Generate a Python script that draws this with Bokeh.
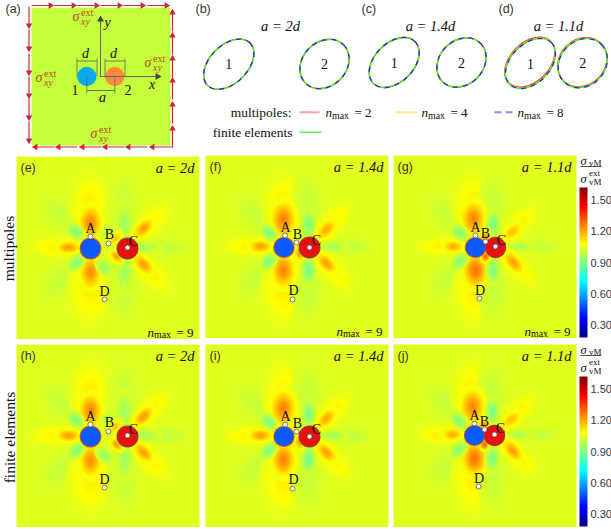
import math
from bokeh.core.properties import value
from bokeh.embed import file_html
from bokeh.models import ColorBar, FixedTicker, LinearColorMapper
from bokeh.plotting import figure
from bokeh.resources import INLINE

# ---------- data ----------
tick_values = [0.30, 0.60, 0.90, 1.20, 1.50]
tick_labels = ["0.30", "0.60", "0.90", "1.20", "1.50"]
scale_low, scale_high = 0.185, 1.62
field_base = 1.04

panel_names = ["(e)", "(f)", "(g)", "(h)", "(i)", "(j)"]
panel_left = [16, 205, 393, 16, 205, 393]
panel_top = [156, 155, 155, 344, 344, 344]
panel_titles = ["a = 2d", "a = 1.4d", "a = 1.1d", "a = 2d", "a = 1.4d", "a = 1.1d"]
panel_config = [0, 1, 2, 0, 1, 2]
panel_dx = [0, 0, 0, 0, 0, -1]
panel_dy = [0, 0, 0, 188, 189, 188]

hole1_x = [90, 283.5, 475]
hole2_x = [127, 309, 495]
holes_y = [248, 247, 247]
hole1_r = [10, 9.7, 9.7]
hole2_r = [10.3, 10.3, 10]
point_a = [(90, 236), (284.5, 235), (475, 235)]
point_b = [(108, 243), (296, 242), (485, 241)]
point_c = [(127, 247), (309, 247), (495, 246)]
point_d = [(104, 299), (292, 299), (479, 298)]
label_a = [(90, 228), (285, 227), (475, 227)]
label_b = [(109, 234), (297, 234), (485, 233)]
label_c = [(133, 241), (316, 240), (501, 240)]
label_d = [(104, 291), (293, 290), (479.5, 290)]

# stress lobes of each geometry: centre, length, width, direction, peak value
lobes2_x = [60, 60, 58, 90, 90, 124, 124, 165, 150, 150, 90, 90, 68, 75, 76, 104, 106, 124, 124, 145, 143, 143, 116, 115]
lobes2_y = [215, 280, 247, 205, 290, 205, 290, 247, 222, 272, 222, 272, 247, 231, 262, 267, 230, 222, 272, 247, 228, 264, 256, 238]
lobes2_l = [70, 70, 70, 80, 85, 85, 85, 60, 62, 62, 46, 46, 34, 26, 26, 26, 22, 50, 50, 38, 36, 36, 22, 22]
lobes2_w = [40, 40, 26, 48, 52, 40, 40, 24, 30, 30, 32, 31, 18, 17, 17, 17, 13, 24, 24, 17, 20, 20, 14, 12]
lobes2_a = [135, 225, 0, 90, 90, 90, 90, 0, 45, -45, 90, 90, 0, 135, 225, -45, 45, 90, 90, 0, 45, -45, -45, 45]
lobes2_v = [1.0, 1.0, 1.11, 1.11, 1.11, 1.0, 1.0, 0.99, 1.11, 1.11, 1.25, 1.24, 1.22, 0.9, 0.9, 0.93, 0.98, 0.95, 0.95, 0.96, 1.22, 1.22, 1.22, 1.17]

lobes14_x = [255, 255, 250, 283, 283, 308, 308, 350, 332, 332, 283, 283, 260, 268, 268, 308, 308, 333, 326, 326, 299]
lobes14_y = [215, 278, 246, 205, 290, 205, 290, 246, 222, 270, 219, 270, 246, 232, 261, 224, 270, 246, 229, 263, 253]
lobes14_l = [70, 70, 68, 80, 85, 85, 85, 60, 62, 62, 50, 48, 34, 26, 26, 38, 38, 34, 36, 36, 20]
lobes14_w = [40, 40, 25, 48, 52, 38, 38, 24, 30, 30, 34, 32, 18, 17, 17, 19, 19, 15, 20, 20, 13]
lobes14_a = [135, 225, 0, 90, 90, 90, 90, 0, 45, -45, 90, 90, 0, 135, 225, 90, 90, 0, 45, -45, -70]
lobes14_v = [1.0, 1.0, 1.11, 1.11, 1.11, 1.0, 1.0, 0.99, 1.11, 1.11, 1.26, 1.26, 1.22, 0.89, 0.89, 0.89, 0.88, 0.95, 1.2, 1.22, 1.22]

lobes11_x = [447, 447, 443, 473, 475, 494, 494, 540, 518, 518, 473, 475, 453, 459, 459, 493, 493, 520, 512, 513, 485, 485]
lobes11_y = [215, 278, 246, 205, 290, 205, 290, 246, 224, 268, 218, 270, 246, 232, 261, 223, 270, 246, 231, 262, 256, 237]
lobes11_l = [70, 70, 62, 80, 85, 85, 85, 60, 62, 62, 48, 48, 30, 26, 26, 34, 34, 30, 34, 38, 16, 16]
lobes11_w = [40, 40, 24, 48, 52, 36, 36, 22, 28, 28, 34, 34, 17, 17, 17, 18, 18, 14, 19, 20, 13, 12]
lobes11_a = [135, 225, 0, 90, 90, 90, 90, 0, 45, -45, 90, 90, 0, 135, 225, 90, 90, 0, 40, -50, 90, 90]
lobes11_v = [1.0, 1.0, 1.11, 1.11, 1.11, 1.0, 1.0, 1.0, 1.11, 1.11, 1.25, 1.28, 1.2, 0.9, 0.9, 0.89, 0.89, 0.96, 1.17, 1.22, 1.3, 1.26]

lobes = [
    (lobes2_x, lobes2_y, lobes2_l, lobes2_w, lobes2_a, lobes2_v),
    (lobes14_x, lobes14_y, lobes14_l, lobes14_w, lobes14_a, lobes14_v),
    (lobes11_x, lobes11_y, lobes11_l, lobes11_w, lobes11_a, lobes11_v),
]

# deformed hole outlines of (b), (c), (d): centre, long and short diameter, tilt
shape_x = [228.3, 324, 393.7, 461, 530, 582.3]
shape_y = [63.7, 63.5, 62, 62, 63, 62.7]
shape_long = [60, 54, 59, 54, 59, 53]
shape_short = [38, 44, 39, 44, 39, 45]
shape_tilt = [45, 45, 45, 45, 45, 45]
shape_names = ["1", "2", "1", "2", "1", "2"]
shape_shift_n2 = [0, 0, 0, 0, 1.3, 1.0]
shape_shift_n4 = [0, 0, 0, 0, 0.7, 0.5]


def jet(v):
    t = max(0.0, min(1.0, (v - scale_low) / (scale_high - scale_low)))
    r = max(0.0, min(1.0, 1.5 - abs(4 * t - 3)))
    g = max(0.0, min(1.0, 1.5 - abs(4 * t - 2)))
    b = max(0.0, min(1.0, 1.5 - abs(4 * t - 1)))
    return "#%02x%02x%02x" % (round(r * 255), round(g * 255), round(b * 255))


jet_palette = [jet(scale_low + (scale_high - scale_low) * i / 255) for i in range(256)]

p = figure(width=611, height=529, x_range=(0, 611), y_range=(529, 0), output_backend="svg",
           toolbar_location=None, x_axis_type=None, y_axis_type=None, min_border=0,
           margin=0, outline_line_color=None, background_fill_color="white")


def label(x, y, s, size=12, font="Liberation Serif", style="normal", color="#111111",
          align="left", angle=0.0):
    p.text([x], [y], text=[s], text_font=value(font), text_font_style=style,
           text_font_size=f"{size}px", text_color=color, text_align=align,
           text_baseline="middle", angle=angle)


def sigma(x, y, color, sub="xy", sup="ext", size=14, sub_dy=4.5, sup_dy=-4):
    label(x, y, "σ", size, style="italic", color=color)
    label(x + 8.5, y + sub_dy, sub, size * 0.72, style="italic" if sub == "xy" else "normal", color=color)
    if sup:
        label(x + 8.5, y + sup_dy, sup, size * 0.72, color=color)


def nmax(x, y, n, size=13):
    label(x, y, "n", size, style="italic")
    label(x + 6.5, y + 2.5, "max", size * 0.76)
    label(x + 29, y, f"= {n}", size)


# ---------- panel (a) ----------
p.quad(left=[31], right=[170], top=[7], bottom=[145], fill_color="#c4ff3c", line_color=None)
arrow_color = "#c9283e"
top_heads = [50, 73, 96, 119, 142, 166]
bottom_heads = [35, 58, 82, 105, 128, 152]
left_heads = [25, 48, 72, 95, 117, 140]
right_heads = [12, 35, 58, 80, 104, 128]
p.segment([h - 19 for h in top_heads], [5] * 6, top_heads, [5] * 6, line_color=arrow_color, line_width=1.2)
p.segment([h + 19 for h in bottom_heads], [146.5] * 6, bottom_heads, [146.5] * 6, line_color=arrow_color, line_width=1.2)
p.segment([28.5] * 6, [h - 19 for h in left_heads], [28.5] * 6, left_heads, line_color=arrow_color, line_width=1.2)
p.segment([172] * 6, [h + 19 for h in right_heads], [172] * 6, right_heads, line_color=arrow_color, line_width=1.2)
head = dict(marker="triangle", size=6.5, fill_color=arrow_color, line_color=None)
p.scatter(top_heads, [5] * 6, angle=-math.pi / 2, **head)
p.scatter(bottom_heads, [146.5] * 6, angle=math.pi / 2, **head)
p.scatter([28.5] * 6, left_heads, angle=math.pi, **head)
p.scatter([172] * 6, right_heads, angle=0, **head)

p.circle([86.3], [76], radius=9.7, fill_color="#08aaf0", line_color=None)
p.circle([114.3], [76], radius=9.7, fill_color="#ff8a3c", line_color=None)
axis_color = "#666666"
p.segment([100, 100], [76, 76], [100, 155], [20, 76], line_color=axis_color, line_width=1)
p.scatter([100], [19], marker="triangle", size=7, fill_color="#444444", line_color=None)
p.scatter([157], [76], marker="triangle", size=7, angle=-math.pi / 2, fill_color="#444444", line_color=None)
dim_x0 = [76.5, 104.5, 86.3]
dim_x1 = [96.5, 124.5, 114.3]
dim_y = [60.5, 60.5, 90]
p.segment(dim_x0, dim_y, dim_x1, dim_y, line_color="#555555", line_width=0.8)
p.segment([76.5, 96.5, 104.5, 124.5, 86.3, 114.3], [58, 58, 58, 58, 76, 76],
          [76.5, 96.5, 104.5, 124.5, 86.3, 114.3], [76, 76, 76, 76, 93, 93],
          line_color="#666666", line_width=0.8)
for x, y, s, st in [(85, 53, "d", "italic"), (113, 53, "d", "italic"), (74.5, 89, "1", "normal"),
                    (127.5, 89, "2", "normal"), (102, 97, "a", "italic"), (151.5, 84, "x", "italic"),
                    (107, 22, "y", "italic")]:
    label(x, y, s, 14, style=st, align="center")
sig_color = "#b5482a"
for x, y in [(72, 16), (35, 77), (144, 62), (90, 133)]:
    sigma(x, y, sig_color)

# ---------- panels (b), (c), (d) ----------
for i in range(6):
    s2, s4 = shape_shift_n2[i], shape_shift_n4[i]
    common = dict(width=shape_long[i], height=shape_short[i], angle=math.radians(shape_tilt[i]), fill_color=None)
    p.ellipse([shape_x[i] - s2 * 0.5], [shape_y[i] - s2], line_color="#f21e1e", line_width=1.3, **common)
    p.ellipse([shape_x[i] - s4 * 0.5], [shape_y[i] - s4], line_color="#ffb400", line_width=1.3, **common)
    p.ellipse([shape_x[i]], [shape_y[i]], line_color="#3cf03c", line_width=1.3, **common)
    p.ellipse([shape_x[i]], [shape_y[i]], line_color="#2030d0", line_width=1.3, line_dash="5 5", **common)
    label(shape_x[i], shape_y[i], shape_names[i], 14, align="center")

for x, s in [(280, "a = 2d"), (430, "a = 1.4d"), (558, "a = 1.1d")]:
    label(x, 25, s, 14.5, style="italic", align="center")
for x, y, s in [(5, 8, "(a)"), (195, 8, "(b)"), (361, 8, "(c)"), (498, 8, "(d)")]:
    label(x, y, s, 12.5, font="Liberation Sans", color="#333333")

label(291, 112, "multipoles:", 13.5, align="right")
label(292, 132, "finite elements", 13.5, align="right")
p.line([299, 319], [111.7, 111.7], line_color="#f7a3a3", line_width=2)
p.line([395, 417], [111.7, 111.7], line_color="#ffe68a", line_width=2)
p.line([494, 512], [111.7, 111.7], line_color="#8a8cf5", line_width=2, line_dash="7 4")
p.line([299, 321], [131.7, 131.7], line_color="#66ee66", line_width=1.6)
nmax(325, 112, 2)
nmax(421, 112, 4)
nmax(517, 112, 8)

# ---------- stress maps ----------
LEVELS = 9
for k in range(6):
    c, dx, dy = panel_config[k], panel_dx[k], panel_dy[k]
    x0, y0 = panel_left[k], panel_top[k]
    p.quad(left=[x0], right=[x0 + 183], top=[y0], bottom=[y0 + 182.5],
           fill_color=jet(field_base), line_color=None)
    ex, ey, ew, eh, ea, ec = [], [], [], [], [], []
    lx, ly, ll, lw, la, lv = lobes[c]
    for j in range(len(lx)):
        for n in range(LEVELS):
            f = (n + 1) / LEVELS
            s = math.sqrt(math.log(f * 0.97) / math.log(0.08))
            ex.append(lx[j] + dx)
            ey.append(ly[j] + dy)
            ew.append(ll[j] * s)
            eh.append(lw[j] * s)
            ea.append(math.radians(la[j]))
            ec.append(jet(field_base + (lv[j] - field_base) * f))
    p.ellipse(ex, ey, width=ew, height=eh, angle=ea, fill_color=ec, line_color=None)

    h1, h2, hy = hole1_x[c] + dx, hole2_x[c] + dx, holes_y[c] + dy
    p.circle([h1], [hy], radius=hole1_r[c] + 0.9, fill_color="#d8501e", line_color=None)
    p.circle([h1], [hy], radius=hole1_r[c], fill_color="#0a5aff", line_color=None)
    p.circle([h2], [hy], radius=hole2_r[c] + 0.7, fill_color="#6a5a48", line_color=None)
    p.circle([h2], [hy], radius=hole2_r[c], fill_color="#e81010", line_color=None)

    pts = [point_a[c], point_b[c], point_c[c], point_d[c]]
    p.scatter([q[0] + dx for q in pts], [q[1] + dy for q in pts], marker="circle", size=5,
              fill_color="white", line_color="#444444", line_width=0.7)
    for s, q in zip("ABCD", [label_a[c], label_b[c], label_c[c], label_d[c]]):
        label(q[0] + dx, q[1] + dy, s, 14, align="center")
    label(x0 + 4, y0 + 11, panel_names[k], 12.5, font="Liberation Sans", color="#333333")
    label(x0 + 178, y0 + 11, panel_titles[k], 14.5, style="italic", align="right")
    if k < 3:
        nmax(x0 + 131, y0 + 175.5, 9)

label(8, 248, "multipoles", 15.5, align="center", angle=math.pi / 2)
label(9, 437, "finite elements", 15.5, align="center", angle=math.pi / 2)

# ---------- colour bars ----------
mapper = LinearColorMapper(palette=jet_palette, low=scale_low, high=scale_high)
for bar_bottom, head_y in [(337, 160), (526, 349)]:
    bar = ColorBar(color_mapper=mapper, location=(579, 529 - bar_bottom), width=8, height=150,
                   padding=0, margin=0, ticker=FixedTicker(ticks=tick_values),
                   major_label_overrides={v: s for v, s in zip(tick_values, tick_labels)},
                   major_label_text_font="Liberation Sans", major_label_text_font_size="11px",
                   major_label_text_color="#334", major_tick_line_color=None,
                   minor_tick_line_color=None, bar_line_color=None, label_standoff=3,
                   background_fill_color=None, border_line_color=None)
    p.add_layout(bar, "center")
    sigma(580, head_y, "#111111", sub="vM", sup=None, size=12.5, sub_dy=2.5)
    p.line([580, 601], [head_y + 6, head_y + 6], line_color="#222222", line_width=0.8)
    sigma(580, head_y + 18, "#111111", sub="vM", sup="ext", size=12.5, sub_dy=3.5, sup_dy=-5.5)

open("out.html", "w").write(file_html(p, INLINE))
